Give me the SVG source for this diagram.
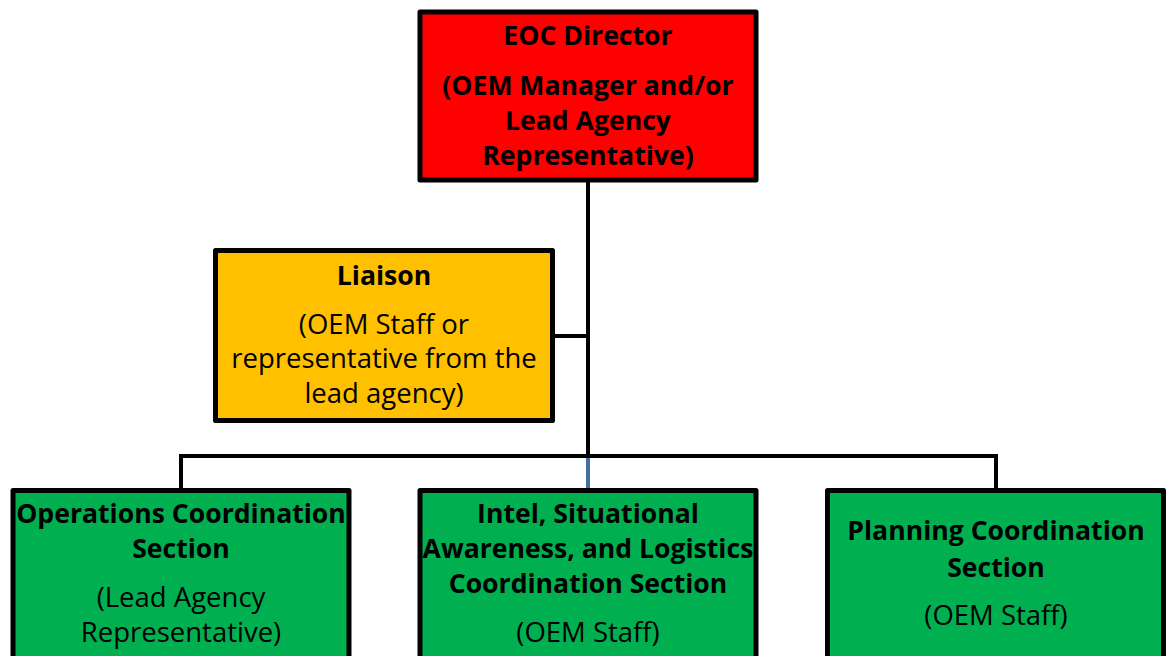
<svg xmlns="http://www.w3.org/2000/svg" width="1166" height="656" viewBox="0 0 1166 656">
<style>
.box{stroke:#000;stroke-width:5;stroke-linejoin:round}
.red{fill:#FF0000}.gold{fill:#FFC000}.green{fill:#00B050}
text{font-family:"Open Sans",Lato,"Liberation Sans",sans-serif;font-size:27.5px;fill:#000;text-anchor:middle}
.b{font-weight:bold;font-size:26.6px}
.ln{stroke:#000;stroke-width:4;fill:none}
</style>
<rect width="1166" height="656" fill="#fff"/>
<g id="connectors">
<line class="ln" x1="588" y1="182" x2="588" y2="457"/>
<line class="ln" x1="553" y1="336" x2="588" y2="336"/>
<polyline class="ln" points="181,488 181,456 996,456 996,488"/>
<line x1="588" y1="458" x2="588" y2="488" stroke="#41719C" stroke-width="4"/>
</g>
<g id="director">
<rect class="box red" x="420" y="12" width="336" height="168"/>
<text class="b" x="588" y="45">EOC Director</text>
<text class="b" x="588" y="95">(OEM Manager and/or</text>
<text class="b" x="588" y="130">Lead Agency</text>
<text class="b" x="588" y="165">Representative)</text>
</g>
<g id="liaison">
<rect class="box gold" x="215.5" y="250.5" width="337" height="170"/>
<text class="b" x="384" y="285">Liaison</text>
<text x="384" y="334">(OEM Staff or</text>
<text x="384" y="368">representative from the</text>
<text x="384" y="403">lead agency)</text>
</g>
<g id="operations">
<rect class="box green" x="13" y="490.5" width="336" height="180"/>
<text class="b" x="181" y="523">Operations Coordination</text>
<text class="b" x="181" y="558">Section</text>
<text x="181" y="607">(Lead Agency</text>
<text x="181" y="642">Representative)</text>
</g>
<g id="intel">
<rect class="box green" x="420" y="490.5" width="336" height="180"/>
<text class="b" x="588" y="523">Intel, Situational</text>
<text class="b" x="588" y="558">Awareness, and Logistics</text>
<text class="b" x="588" y="593">Coordination Section</text>
<text x="588" y="642">(OEM Staff)</text>
</g>
<g id="planning">
<rect class="box green" x="827.5" y="490.5" width="336" height="180"/>
<text class="b" x="996" y="540">Planning Coordination</text>
<text class="b" x="996" y="577">Section</text>
<text x="996" y="625">(OEM Staff)</text>
</g>
</svg>
